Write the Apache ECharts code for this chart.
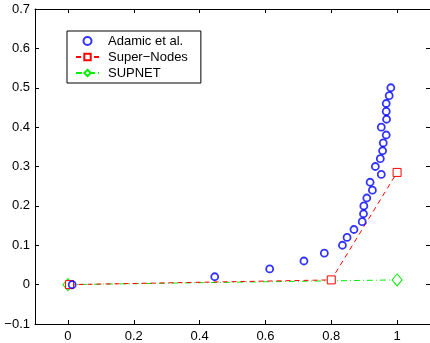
<!DOCTYPE html>
<html>
<head>
<meta charset="utf-8">
<script src="https://cdn.jsdelivr.net/npm/echarts@6/dist/echarts.min.js"></script>
<style>
  html, body { margin: 0; padding: 0; background: #fff; }
  #chart { width: 430px; height: 343px; }
</style>
</head>
<body>
<div id="chart"></div>
<script>
const adamicX = [0.013, 0.446, 0.613, 0.717, 0.779, 0.834, 0.848, 0.869, 0.894, 0.898, 0.899, 0.908, 0.925, 0.918,
  0.952, 0.934, 0.949, 0.956, 0.958, 0.967, 0.952, 0.968, 0.967, 0.967, 0.976, 0.981]
const adamicY = [0, 0.02, 0.04, 0.06, 0.08, 0.10, 0.12, 0.14, 0.16, 0.18, 0.20, 0.22, 0.24, 0.26,
  0.28, 0.30, 0.32, 0.34, 0.36, 0.38, 0.40, 0.42, 0.44, 0.46, 0.48, 0.50]
const superX = [0.005, 0.8, 1]
const superY = [0, 0.012, 0.285]
const supnetX = [0, 1]
const supnetY = [0, 0.012]
const xTicks = [0, 0.2, 0.4, 0.6, 0.8, 1]

const font = '"Liberation Sans", Arial, sans-serif'
const zip = (xs, ys) => xs.map((x, i) => [x, ys[i]])
const fmt = v => String(Math.round(v * 10) / 10).replace('-', '\u2212')

const chart = echarts.init(document.getElementById('chart'))

const tick = { show: true, inside: true, length: 4, lineStyle: { color: '#000' } }
const line = { show: true, onZero: false, lineStyle: { color: '#000', width: 1 } }

chart.setOption({
  animation: false,
  grid: { left: 35, top: 9, width: 396, bottom: 19 },
  legend: {
    orient: 'vertical',
    left: 67,
    top: 31,
    padding: [3, 13, 3, 8],
    itemGap: 2,
    itemWidth: 23,
    itemHeight: 8,
    borderColor: '#000',
    borderWidth: 1,
    textStyle: { fontFamily: font, fontSize: 13, lineHeight: 14, color: '#000', padding: [0, 0, 0, 4] },
    data: ['Adamic et al.', 'Super\u2212Nodes', 'SUPNET']
  },
  xAxis: [
    {
      type: 'value', min: -0.1, max: 1.1, position: 'bottom',
      axisLine: line,
      axisTick: Object.assign({ customValues: xTicks }, tick),
      axisLabel: { customValues: xTicks, formatter: fmt, color: '#000', fontFamily: font, fontSize: 13, margin: 6 },
      splitLine: { show: false }
    },
    {
      type: 'value', min: -0.1, max: 1.1, position: 'top',
      axisLine: line,
      axisTick: Object.assign({ customValues: xTicks }, tick),
      axisLabel: { show: false },
      splitLine: { show: false }
    }
  ],
  yAxis: [
    {
      type: 'value', min: -0.1, max: 0.7, interval: 0.1, position: 'left',
      axisLine: line, axisTick: tick,
      axisLabel: { formatter: fmt, color: '#000', fontFamily: font, fontSize: 13, margin: 5 },
      splitLine: { show: false }
    },
    {
      type: 'value', min: -0.1, max: 0.7, interval: 0.1, position: 'right',
      axisLine: line, axisTick: tick,
      axisLabel: { show: false },
      splitLine: { show: false }
    }
  ],
  series: [
    {
      name: 'Adamic et al.',
      type: 'scatter',
      data: zip(adamicX, adamicY),
      symbol: 'circle',
      symbolSize: 7,
      itemStyle: { color: 'rgba(0,0,0,0)', borderColor: '#0000ff', borderWidth: 1.8 },
      z: 3
    },
    {
      name: 'Super\u2212Nodes',
      type: 'line',
      data: zip(superX, superY),
      symbol: 'rect',
      symbolSize: 8,
      showAllSymbol: true,
      lineStyle: { color: '#ff0000', width: 1, type: [5, 4] },
      itemStyle: { color: '#fff', borderColor: '#ff0000', borderWidth: 1 },
      z: 2
    },
    {
      name: 'SUPNET',
      type: 'line',
      data: zip(supnetX, supnetY),
      symbol: 'diamond',
      symbolSize: [10, 12],
      showAllSymbol: true,
      lineStyle: { color: '#00ee00', width: 1, type: [6, 3, 1, 3] },
      itemStyle: { color: '#fff', borderColor: '#00ee00', borderWidth: 1 },
      z: 1
    }
  ]
})
</script>
</body>
</html>
